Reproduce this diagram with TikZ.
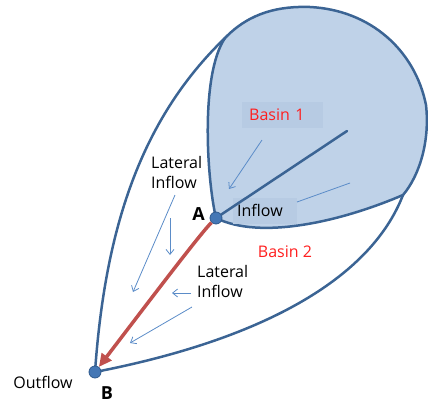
\documentclass[tikz,border=0pt]{standalone}
\usepackage{fontspec}
\setmainfont{Open Sans}
\usetikzlibrary{arrows.meta,backgrounds}
\definecolor{edge}{HTML}{3B6494}
\definecolor{basin}{HTML}{BFD2E8}
\definecolor{tbox}{HTML}{B7CBE3}
\definecolor{thin}{HTML}{5B8CC8}
\definecolor{river}{HTML}{C0504D}
\definecolor{dotfill}{HTML}{4477B5}
\definecolor{dotedge}{HTML}{2F5A8E}
\definecolor{redtext}{HTML}{FF1F1F}
\begin{document}
\begin{tikzpicture}[x=1pt,y=-1pt,
  bnd/.style={draw=edge, line width=2.5pt, line join=round, line cap=round},
  thinarrow/.style={draw=thin, line width=0.8pt, -{Straight Barb[length=5pt,width=8pt]}},
  thinline/.style={draw=thin, line width=0.8pt},
  lbl/.style={font=\fontsize{16}{20}\selectfont, text=black, inner sep=0pt, align=left},
  redlbl/.style={font=\fontsize{16}{20}\selectfont, text=redtext, inner sep=0pt},
  boxlbl/.style={fill=tbox, inner ysep=0pt, minimum height=26pt, align=left, anchor=west},
  pt/.style={circle, fill=dotfill, draw=dotedge, line width=0.8pt, minimum size=12pt, inner sep=0pt},
  letter/.style={font=\fontsize{18}{20}\selectfont\bfseries, inner sep=0pt},
  riverpath/.style={draw=river, line width=3.5pt, -{Triangle[length=13pt,width=12pt]}}]
\useasboundingbox (0,0) rectangle (428,405);

% junction points
\node[pt] (A) at (216,218) {};
\node[pt] (B) at (95,372) {};
\coordinate (N) at (225,38);
\coordinate (J) at (403,195);
\coordinate (S) at (347,131);

\begin{pgfonlayer}{background}
  \fill[basin] (A.center) .. controls (207,180) and (200,75) .. (N)
     .. controls (250,12) and (280,6) .. (310,7)
     .. controls (370,10) and (415,50) .. (426,105)
     .. controls (430,140) and (420,175) .. (J)
     .. controls (340,222) and (260,240) .. (A.center) -- cycle;
  \draw[bnd] (A.center) .. controls (207,180) and (200,75) .. (N)
     .. controls (250,12) and (280,6) .. (310,7)
     .. controls (370,10) and (415,50) .. (426,105)
     .. controls (430,140) and (420,175) .. (J)
     .. controls (340,222) and (260,240) .. (A.center);
  \draw[bnd] (B.center) .. controls (105,230) and (140,120) .. (N);
  \draw[bnd] (J) .. controls (370,280) and (260,340) .. (B.center);
\end{pgfonlayer}

% text boxes and labels
\node[boxlbl, redlbl, text width=67pt, inner xsep=7pt] (b1) at (242,115) {Basin 1};
\node[boxlbl, lbl, text width=56pt, inner xsep=4pt] (inflow) at (233,210.5) {Inflow};
\node[redlbl] (b2) at (285,252) {Basin 2};
\node[lbl, anchor=west] (lat1) at (151,172) {Lateral\\Inflow};
\node[lbl, anchor=west] (lat2) at (197,281) {Lateral\\Inflow};
\node[lbl] (out) at (43,382) {Outflow};
\node[letter] (labA) at (198.5,214.5) {A};
\node[letter] (labB) at (107,393) {B};

% main stream in basin 1
\draw[bnd] (A) -- (S);

% thin arrows
\coordinate (a1s) at (262,140); \coordinate (a1e) at (229,189);
\coordinate (a2s) at (175,195); \coordinate (a2e) at (133,292);
\coordinate (a3s) at (170,218); \coordinate (a3e) at (170,255);
\coordinate (a4s) at (191,293); \coordinate (a4e) at (172,293);
\coordinate (a5s) at (192,307); \coordinate (a5e) at (130,343);
\coordinate (l6s) at (297,202); \coordinate (l6e) at (350,183);
\draw[thinarrow] (a1s) -- (a1e);
\draw[thinarrow] (a2s) -- (a2e);
\draw[thinarrow] (a3s) -- (a3e);
\draw[thinarrow] (a4s) -- (a4e);
\draw[thinarrow] (a5s) -- (a5e);
\draw[thinline] (l6s) -- (l6e);

% river from A to B
\draw[riverpath] (A) .. controls (200,234) and (150,300) .. (B);
\end{tikzpicture}
\end{document}
